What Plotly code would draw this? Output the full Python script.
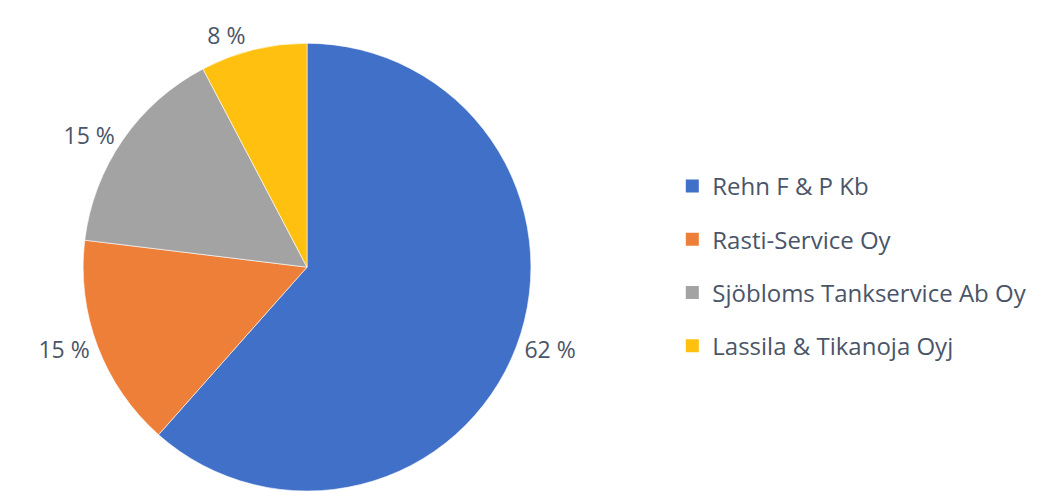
import plotly.graph_objects as go

companies = ["Rehn F & P Kb", "Rasti-Service Oy", "Sjöbloms Tankservice Ab Oy", "Lassila & Tikanoja Oyj"]
values = [8, 2, 2, 1]
colors = ["#4170C8", "#EE7F38", "#A3A3A3", "#FFC010"]

total = sum(values)
labels_txt = [f"{round(v / total * 100)} %" for v in values]

text_color = "#4A5568"
font_family = "Open Sans, Liberation Sans, Arial, sans-serif"

fig = go.Figure()
fig.add_trace(go.Pie(
    labels=companies,
    values=values,
    text=labels_txt,
    textinfo="text",
    textposition="outside",
    sort=False,
    direction="clockwise",
    rotation=0,
    marker=dict(colors=colors, line=dict(color="white", width=0.6)),
    outsidetextfont=dict(size=23, color=text_color, family=font_family),
    showlegend=False,
    automargin=False,
    domain=dict(x=[0.0708, 0.4934], y=[0.0162, 0.9282]),
    hoverinfo="label+percent",
))

for i, (name, col) in enumerate(zip(companies, colors)):
    fig.add_trace(go.Scatter(
        x=[None], y=[None], mode="markers", name=name,
        marker=dict(symbol="square", size=13, color=col),
        legendgroup=f"g{i}", showlegend=True,
    ))

fig.update_layout(
    width=1060, height=491,
    margin=dict(l=0, r=0, t=0, b=0),
    paper_bgcolor="white", plot_bgcolor="white",
    xaxis=dict(visible=False), yaxis=dict(visible=False),
    legend=dict(
        x=0.6267, y=0.4745, xanchor="left", yanchor="middle",
        font=dict(size=24, color=text_color, family=font_family),
        tracegroupgap=19, itemwidth=30,
        bgcolor="rgba(0,0,0,0)",
    ),
)

fig.write_html("out.html")
